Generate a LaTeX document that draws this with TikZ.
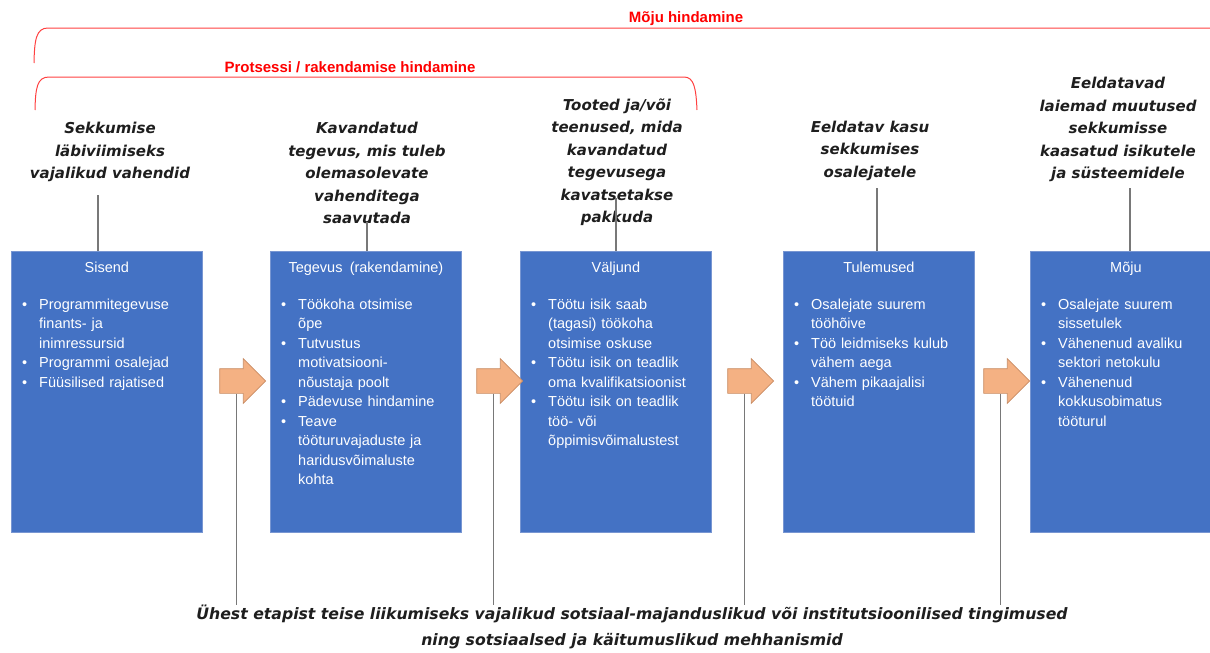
\documentclass[tikz,border=0pt]{standalone}
\usepackage{fontspec}
\setmainfont{Liberation Sans}
\newfontfamily\capfont{DejaVu Sans}
\usetikzlibrary{shapes.arrows, positioning}
\definecolor{boxblue}{RGB}{68,114,196}
\definecolor{boxedge}{RGB}{120,150,210}
\definecolor{arrfill}{RGB}{244,177,131}
\definecolor{arredge}{RGB}{200,140,100}
\definecolor{stemgrey}{RGB}{120,120,120}
\definecolor{capgrey}{RGB}{30,30,30}
\definecolor{evalred}{RGB}{255,0,0}
\newcommand{\bul}[1]{\hangindent=17pt\hangafter=1\makebox[17pt][l]{\textbullet}#1\par}
\tikzset{
  stage/.style={rectangle, draw=boxedge, fill=boxblue, line width=0.8pt,
    minimum width=191pt, minimum height=281pt, anchor=north west, inner sep=0pt},
  stagetitle/.style={anchor=base, text=white, inner sep=0pt,
    font=\fontsize{14.5}{17}\selectfont},
  stagelist/.style={anchor=base west, text=white, text width=180pt, align=left,
    inner sep=0pt, font=\fontsize{14.5}{19.5}\selectfont},
  caption/.style={anchor=base, align=center, text=capgrey, inner sep=0pt,
    font=\capfont\bfseries\itshape\fontsize{15}{22.5}\selectfont},
  flow/.style={single arrow, fill=arrfill, draw=arredge, line width=0.7pt,
    minimum height=46pt, inner sep=12pt, single arrow head extend=10pt},
  stem/.style={draw=stemgrey, line width=1.2pt},
  evaltext/.style={text=evalred, inner sep=0pt, font=\bfseries\fontsize{15}{18}\selectfont},
  evalbrace/.style={draw=evalred!75, line width=1pt}
}
\begin{document}
\begin{tikzpicture}[x=1pt, y=-1pt]
\useasboundingbox (0,0) rectangle (1210,653);

% evaluation brackets
\node[evaltext] (impEval) at (686,19) {Mõju hindamine};
\node[evaltext] (procEval) at (350,67) {Protsessi / rakendamise hindamine};
\draw[evalbrace] (34,63) .. controls (34.5,40) and (36,28) .. (48,28) -- (1215,28);
\draw[evalbrace] (35,110) .. controls (35.5,88) and (37,77) .. (49,77) -- (684,77)
  .. controls (694,77) and (696,88) .. (697,110);

% stages
\node[stage] (sis) at (11,251) {};
\node[stage] (teg) at (270,251) {};
\node[stage] (val) at (520,251) {};
\node[stage] (tul) at (783,251) {};
\node[stage] (moj) at (1030,251) {};

\node[stagetitle] at ([yshift=-21pt]sis.north) {Sisend};
\node[stagetitle] at ([yshift=-21pt]teg.north) {Tegevus\enspace(rakendamine)};
\node[stagetitle] at ([yshift=-21pt]val.north) {Väljund};
\node[stagetitle] at ([yshift=-21pt]tul.north) {Tulemused};
\node[stagetitle] at ([yshift=-21pt]moj.north) {Mõju};

\node[stagelist] at ([shift={(11,58)}]sis.north west) {%
  \bul{Programmitegevuse\newline finants- ja\newline inimressursid}%
  \bul{Programmi osalejad}%
  \bul{Füüsilised rajatised}};
\node[stagelist] at ([shift={(11,58)}]teg.north west) {%
  \bul{Töökoha otsimise\newline õpe}%
  \bul{Tutvustus\newline motivatsiooni-\newline nõustaja poolt}%
  \bul{Pädevuse hindamine}%
  \bul{Teave\newline tööturuvajaduste ja\newline haridusvõimaluste\newline kohta}};
\node[stagelist] at ([shift={(11,58)}]val.north west) {%
  \bul{Töötu isik saab\newline (tagasi) töökoha\newline otsimise oskuse}%
  \bul{Töötu isik on teadlik\newline oma kvalifikatsioonist}%
  \bul{Töötu isik on teadlik\newline töö- või\newline õppimisvõimalustest}};
\node[stagelist] at ([shift={(11,58)}]tul.north west) {%
  \bul{Osalejate suurem\newline tööhõive}%
  \bul{Töö leidmiseks kulub\newline vähem aega}%
  \bul{Vähem pikaajalisi\newline töötuid}};
\node[stagelist] at ([shift={(11,58)}]moj.north west) {%
  \bul{Osalejate suurem\newline sissetulek}%
  \bul{Vähenenud avaliku\newline sektori netokulu}%
  \bul{Vähenenud\newline kokkusobimatus\newline tööturul}};

% captions above the stages (base = last line)
\node[caption] (sisCap) at (110,178.5) {Sekkumise\\läbiviimiseks\\vajalikud vahendid};
\node[caption] (tegCap) at (367,223.5) {Kavandatud\\tegevus, mis tuleb\\olemasolevate\\vahenditega\\saavutada};
\node[caption] (valCap) at (617,222.5) {Tooted ja/või\\teenused, mida\\kavandatud\\tegevusega\\kavatsetakse\\pakkuda};
\node[caption] (tulCap) at (870,177) {Eeldatav kasu\\sekkumises\\osalejatele};
\node[caption] (mojCap) at (1118,178.5) {Eeldatavad\\laiemad muutused\\sekkumisse\\kaasatud isikutele\\ja süsteemidele};

\coordinate (sisTop) at (98,195);
\coordinate (tegTop) at (367,222);
\coordinate (valTop) at (616,198);
\coordinate (tulTop) at (877,188);
\coordinate (mojTop) at (1130,188);
\draw[stem] (sisTop) -- (sisTop |- sis.north);
\draw[stem] (tegTop) -- (tegTop |- teg.north);
\draw[stem] (valTop) -- (valTop |- val.north);
\draw[stem] (tulTop) -- (tulTop |- tul.north);
\draw[stem] (mojTop) -- (mojTop |- moj.north);

% transitions
\node[flow] (a1) at (236.5,381) {};
\node[flow] (a2) at (493.5,381) {};
\node[flow] (a3) at (744.5,381) {};
\node[flow] (a4) at (1000.5,381) {};

\node[caption, font=\capfont\bfseries\itshape\fontsize{15.7}{26}\selectfont] (cond) at (632,645.5)
  {Ühest etapist teise liikumiseks vajalikud sotsiaal-majanduslikud või institutsioonilised tingimused\\ning sotsiaalsed ja käitumuslikud mehhanismid};

\draw[stem] (a1.south) -- (a1.south |- cond.north);
\draw[stem] (a2.south) -- (a2.south |- cond.north);
\draw[stem] (a3.south) -- (a3.south |- cond.north);
\draw[stem] (a4.south) -- (a4.south |- cond.north);
\end{tikzpicture}
\end{document}
